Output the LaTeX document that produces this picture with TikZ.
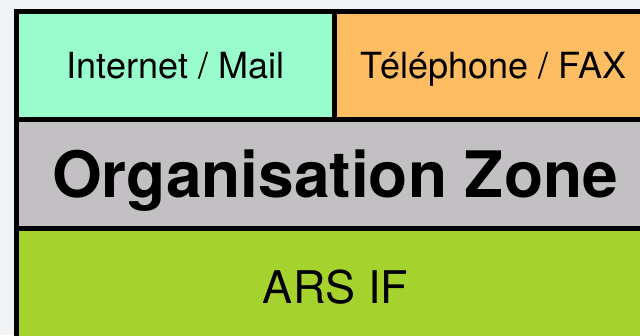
\documentclass[tikz,border=0pt]{standalone}
\usepackage{fontspec}
\setmainfont{TeX Gyre Heros}
\usetikzlibrary{positioning,calc}

\definecolor{mailgreen}{RGB}{152,252,204}
\definecolor{faxorange}{RGB}{255,189,99}
\definecolor{zonegray}{RGB}{194,192,195}
\definecolor{arsgreen}{RGB}{166,210,46}
\definecolor{pagegray}{RGB}{242,243,245}

\begin{document}
\begin{tikzpicture}[x=1pt, y=1pt,
    cell/.style={draw=black, line width=5pt},
    small/.style={anchor=base, font=\fontsize{36}{40}\selectfont},
    big/.style={anchor=base, font=\fontsize{64}{70}\selectfont\bfseries}]
                    \useasboundingbox (0,0) rectangle (640,335);
                    \clip (0,0) rectangle (640,335);
                    \fill[pagegray] (0,0) rectangle (640,335);

                    % corners of the rows
                    \coordinate (R0) at (16.5, 323.5);
                    \coordinate (R1) at (16.5, 215.5);
                    \coordinate (R2) at (16.5, 106.5);
                    \coordinate (R3) at (16.5, -3);
                    \def\right{653}
                    \def\split{334.5}

                    \filldraw[cell, fill=mailgreen] (R1) rectangle (\split, 323.5);
                    \filldraw[cell, fill=faxorange] (\split, 215.5) rectangle (\right, 323.5);
                    \filldraw[cell, fill=zonegray] (R2) rectangle (\right, 215.5);
                    \filldraw[cell, fill=arsgreen] (R3) rectangle (\right, 106.5);

                    \node (mail) at (175.5, 256)[small] {Internet / Mail};
                    \node (fax) at (493.5, 256)[small] {Téléphone / FAX};
                    \node (zone) at (335, 137)[big] {Organisation Zone};
                    \node (ars) at (335.5, 32)[small, font=\fontsize{45}{50}\selectfont] {ARS IF};
                \end{tikzpicture}
\end{document}
